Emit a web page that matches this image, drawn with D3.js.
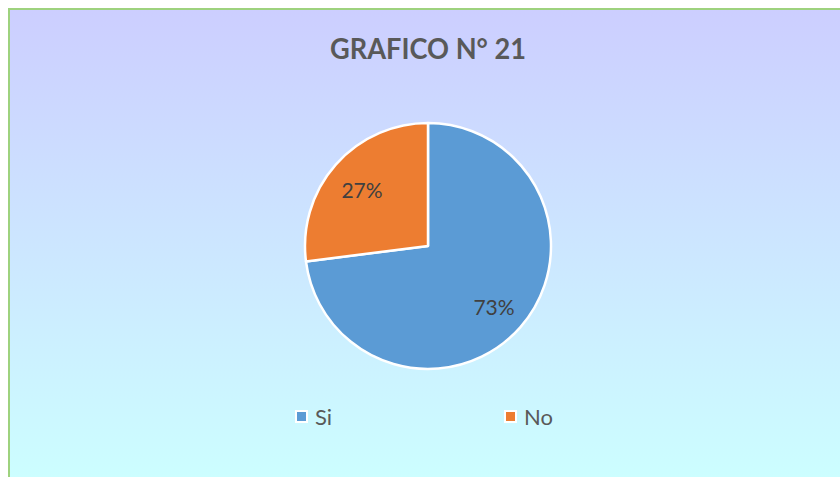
<!DOCTYPE html>
<html><head><meta charset="utf-8">
<script src="https://cdn.jsdelivr.net/npm/d3@7"></script>
<style>html,body{margin:0;padding:0;background:#fff;overflow:hidden}</style>
</head><body>
<svg id="c" width="840" height="477"></svg>
<script>
const title = "GRAFICO N° 21";
const categories = ["Si", "No"];
const values = [73, 27];
const colors = ["#5b9bd5", "#ed7d31"];

const svg = d3.select("#c");
const defs = svg.append("defs");
const g = defs.append("linearGradient").attr("id","bg").attr("x1",0).attr("y1",0).attr("x2",0).attr("y2",1);
g.append("stop").attr("offset","0%").attr("stop-color","#ccceff");
g.append("stop").attr("offset","100%").attr("stop-color","#ccffff");

svg.append("rect").attr("x",9).attr("y",9).attr("width",840).attr("height",480)
  .attr("fill","url(#bg)").attr("stroke","#9ed27e").attr("stroke-width",2);

svg.append("text").attr("x",428).attr("y",59).attr("text-anchor","middle")
  .attr("font-family","Lato, 'Open Sans', sans-serif").attr("font-weight","bold")
  .attr("font-size",28).attr("textLength",196).attr("lengthAdjust","spacingAndGlyphs")
  .attr("fill","#595959").text(title);

const cx = 428, cy = 246, R = 123;
const pie = d3.pie().sort(null).value(d => d)(values);
const arc = d3.arc().innerRadius(0).outerRadius(R);
const lab = d3.arc().innerRadius(88).outerRadius(88);
const pg = svg.append("g").attr("transform",`translate(${cx},${cy})`);
pg.selectAll("path").data(pie).join("path")
  .attr("d", arc).attr("fill",(d,i)=>colors[i]).attr("stroke","#fff").attr("stroke-width",2.5).attr("stroke-linejoin","round");
pg.selectAll("text").data(pie).join("text")
  .attr("transform", d => `translate(${lab.centroid(d)})`)
  .attr("text-anchor","middle").attr("dy","0.5em")
  .attr("font-family","Lato, 'Open Sans', sans-serif").attr("font-size",21).attr("fill","#404040")
  .text(d => d.data + "%");

const lx = [296, 505];
const lg = svg.append("g");
categories.forEach((c,i)=>{
  lg.append("rect").attr("x",lx[i]).attr("y",411).attr("width",11).attr("height",11)
    .attr("fill",colors[i]).attr("stroke","#fff").attr("stroke-width",2);
  lg.append("text").attr("x",lx[i]+19).attr("y",425)
    .attr("font-family","Lato, 'Open Sans', sans-serif").attr("font-size",22).attr("fill","#595959").text(c);
});
</script>
</body></html>
